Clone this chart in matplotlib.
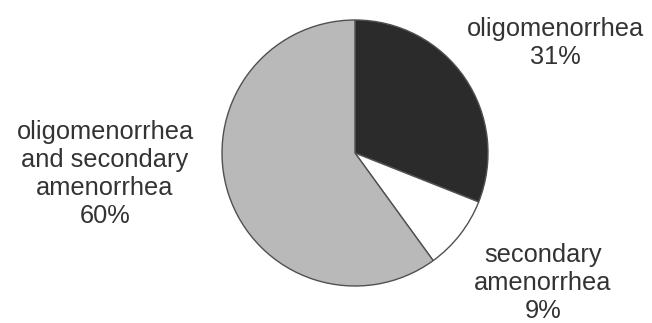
import matplotlib
matplotlib.use("Agg")
import matplotlib.pyplot as plt

categories = ["oligomenorrhea", "secondary\namenorrhea", "oligomenorrhea\nand secondary\namenorrhea"]
values = [31, 9, 60]
colors = ["#2b2b2b", "#ffffff", "#b9b9b9"]

W, H = 652, 323
fig = plt.figure(figsize=(W / 100, H / 100), dpi=100)
ax = fig.add_axes([0, 0, 1, 1])
ax.set_xlim(0, W)
ax.set_ylim(0, H)
ax.set_aspect("equal")
ax.axis("off")

cx, cy, r = 355, H - 153, 133
ax.pie(values, colors=colors, startangle=90, counterclock=False,
       center=(cx, cy), radius=r, frame=True,
       wedgeprops=dict(edgecolor="#505050", linewidth=1.0))
ax.set_xlim(0, W)
ax.set_ylim(0, H)
ax.axis("off")

label_pos = [(555, H - 43), (543, H - 283), (105, H - 174)]
for cat, v, (x, y) in zip(categories, values, label_pos):
    ax.text(x, y, f"{cat}\n{v}%", ha="center", va="center",
            fontsize=18.3, family=["Liberation Sans", "DejaVu Sans"],
            color="#333333", linespacing=1.22)

fig.savefig("out.png", dpi=100)
